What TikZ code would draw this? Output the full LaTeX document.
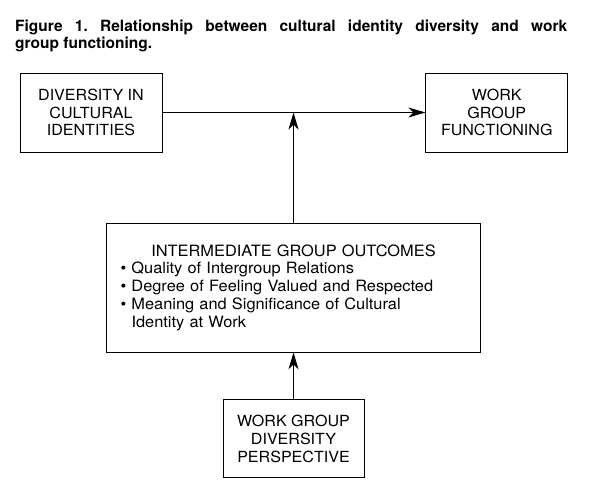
\documentclass[tikz,border=0pt]{standalone}
\usepackage{fontspec}
\setmainfont{TeX Gyre Heros}
\newfontfamily\boxfont{TeX Gyre Heros}[FakeStretch=1.05]
\usetikzlibrary{arrows.meta,positioning}
\tikzset{
    link/.style={-{Stealth[length=17pt, width=10pt, inset=5pt]}, line width=0.9pt},
    factor/.style={draw, line width=0.8pt, align=center, minimum width=142pt, minimum height=79pt, inner sep=0pt, font=\boxfont\fontsize{15.3}{17.7}\selectfont},
    outcomes/.style={draw, line width=0.8pt, text width=346pt, minimum height=129pt, inner xsep=14pt, inner ysep=0pt, font=\boxfont\fontsize{15.6}{17.8}\selectfont},
    caption/.style={inner sep=0pt, text width=552pt, align=justify, font=\fontsize{15.5}{16.5}\selectfont\bfseries\frenchspacing}
}
\begin{document}
\begin{tikzpicture}[x=1pt, y=-1pt]
    \useasboundingbox (0,0) rectangle (603,485);
    \node[caption, anchor=north west] (title) at (15,20) {Figure 1. Relationship between cultural identity diversity and work\linebreak group functioning.};

    \node[factor] (div) at (91,112.5) {DIVERSITY IN\\CULTURAL\\IDENTITIES};
    \node[factor, right=263pt of div] (func) {WORK\\GROUP\\FUNCTIONING};
    \node[outcomes] (inter) at (293.5,287.5) {\centering INTERMEDIATE GROUP OUTCOMES\par
        \raggedright\textbullet\ Quality of Intergroup Relations\\
        \textbullet\ Degree of Feeling Valued and Respected\\
        \textbullet\ Meaning and Significance of Cultural\\
        \hspace*{11pt}Identity at Work};
    \node[factor, minimum width=141pt, minimum height=78pt, below=47pt of inter] (persp) {WORK GROUP\\DIVERSITY\\PERSPECTIVE};
    \coordinate (meet) at (inter |- div);

    \draw[link] (div) -- (func);
    \draw[link] (inter) -- (meet);
    \draw[link] (persp) -- (inter);
\end{tikzpicture}
\end{document}
